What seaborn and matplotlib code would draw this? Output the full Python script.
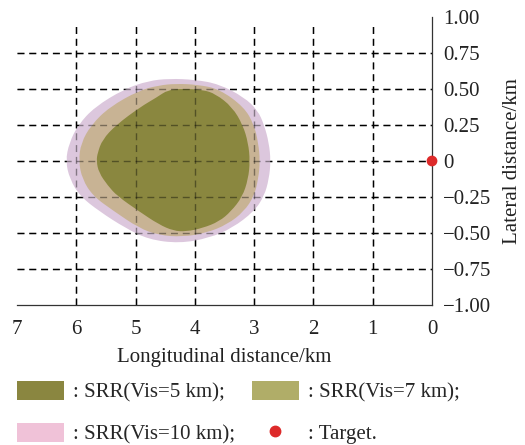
import matplotlib
matplotlib.use("Agg")
import matplotlib.pyplot as plt
import seaborn as sns
import pandas as pd
from matplotlib.patches import Patch, PathPatch
from matplotlib.path import Path
from matplotlib.lines import Line2D

# ---- data (km) ----
vis5_x = [3.87, 4.20, 4.45, 4.65, 4.92, 5.33, 5.56, 5.64, 5.66, 5.62, 5.47, 5.31, 4.94, 4.61,
          4.36, 4.15, 3.87, 3.59, 3.39, 3.20, 3.10, 3.07, 3.10, 3.19, 3.37, 3.65]
vis5_y = [0.495, 0.502, 0.495, 0.44, 0.375, 0.25, 0.148, 0.057, 0.0, -0.08, -0.17, -0.243, -0.35, -0.44,
          -0.485, -0.49, -0.466, -0.42, -0.35, -0.25, -0.125, 0.0, 0.125, 0.25, 0.375, 0.466]

vis7_x = [4.32, 4.61, 4.94, 5.44, 5.75, 5.92, 5.96, 5.90, 5.72, 5.36, 4.94, 4.61, 4.21, 3.81,
          3.45, 3.17, 3.00, 2.93, 2.90, 2.93, 3.00, 3.17, 3.59, 3.95]
vis7_y = [0.537, 0.525, 0.49, 0.375, 0.25, 0.125, 0.0, -0.125, -0.243, -0.35, -0.466, -0.515, -0.527, -0.50,
          -0.44, -0.35, -0.243, -0.125, 0.0, 0.125, 0.25, 0.375, 0.50, 0.53]

vis10_x = [4.43, 4.78, 5.19, 5.69, 5.97, 6.12, 6.18, 6.11, 5.94, 5.61, 5.17, 4.78, 4.26, 3.76,
           3.37, 3.00, 2.83, 2.75, 2.72, 2.75, 2.83, 2.94, 3.17, 3.59, 4.00]
vis10_y = [0.572, 0.557, 0.50, 0.375, 0.25, 0.125, 0.0, -0.125, -0.243, -0.35, -0.466, -0.545, -0.572, -0.535,
           -0.466, -0.35, -0.243, -0.125, 0.0, 0.125, 0.25, 0.352, 0.443, 0.534, 0.565]

target_x = [0.0]
target_y = [0.0]

xticks = [7, 6, 5, 4, 3, 2, 1, 0]
yticks = [-1.0, -0.75, -0.5, -0.25, 0.0, 0.25, 0.5, 0.75, 1.0]
ytick_labels = ["\u22121.00", "\u22120.75", "\u22120.50", "\u22120.25", "0", "0.25", "0.50", "0.75", "1.00"]

legend_labels = [": SRR(Vis=5 km);", ": SRR(Vis=7 km);", ": SRR(Vis=10 km);", ": Target."]

# ---- style ----
sns.set_theme(style="white")
plt.rcParams["font.family"] = ["Liberation Serif", "DejaVu Serif"]
plt.rcParams["axes.unicode_minus"] = True
FS = 15

fill_cols = {"v5": "#8a873f", "v7": "#c8b394", "v10": "#dcc7dd"}
leg_cols = {"v5": "#8a8640", "v7": "#b0ad68", "v10": "#f0c2d8"}
red = "#dd2a2a"


def smooth_outline(xs, ys):
    """Closed outline using the read points as quadratic Bezier control points."""
    pts = list(zip(xs, ys))
    n = len(pts)
    mids = [((pts[i][0] + pts[(i + 1) % n][0]) / 2, (pts[i][1] + pts[(i + 1) % n][1]) / 2)
            for i in range(n)]
    verts = [mids[-1]]
    codes = [Path.MOVETO]
    for i in range(n):
        verts += [pts[i], mids[i]]
        codes += [Path.CURVE3, Path.CURVE3]
    verts.append(mids[-1])
    codes.append(Path.CLOSEPOLY)
    return Path(verts, codes)


fig = plt.figure(figsize=(5.25, 4.45), dpi=100)
ax = fig.add_axes([17 / 525, 1 - 305 / 445, (432 - 17) / 525, (305 - 17) / 445])

ax.set_xlim(7, 0)
ax.set_ylim(-1, 1)

dash = (0, (5, 3.5))
# grid below shapes
for xv in xticks[1:-1]:
    ax.axvline(xv, ymax=0.983, color="black", lw=1.0, ls=dash, zorder=0.5)
for yv in yticks[1:-1]:
    ax.axhline(yv, color="black", lw=1.0, ls=dash, zorder=0.5)

for xs, ys, key, z in [(vis10_x, vis10_y, "v10", 1.0), (vis7_x, vis7_y, "v7", 1.1),
                       (vis5_x, vis5_y, "v5", 1.2)]:
    ax.add_patch(PathPatch(smooth_outline(xs, ys), facecolor=fill_cols[key], lw=0, zorder=z))

# faint grid showing through shapes
for xv in xticks[1:-1]:
    ax.axvline(xv, ymax=0.983, color="black", lw=1.0, ls=dash, alpha=0.4, zorder=2)
for yv in yticks[1:-1]:
    ax.axhline(yv, color="black", lw=1.0, ls=dash, alpha=0.4, zorder=2)

tdf = pd.DataFrame({"x": target_x, "y": target_y})
sns.scatterplot(data=tdf, x="x", y="y", ax=ax, color=red, s=60, edgecolor="none",
                zorder=5, clip_on=False, legend=False)

for s in ["top", "left"]:
    ax.spines[s].set_visible(False)
for s in ["bottom", "right"]:
    ax.spines[s].set_visible(True)
    ax.spines[s].set_color("#333333")
    ax.spines[s].set_linewidth(0.9)

ax.set_xticks(xticks)
ax.set_xticklabels([str(v) for v in xticks])
ax.set_yticks(yticks)
ax.set_yticklabels(ytick_labels)
ax.yaxis.tick_right()
ax.yaxis.set_label_position("right")
ax.tick_params(axis="x", length=0, pad=11, labelsize=FS, colors="#222222")
ax.tick_params(axis="y", length=0, pad=8, labelsize=FS, colors="#222222")
ax.set_xlabel("Longitudinal distance/km", fontsize=FS, labelpad=6, color="#222222")
ax.set_ylabel("Lateral distance/km", fontsize=FS, labelpad=8, color="#222222")
ax.grid(False)

handles = [
    Patch(facecolor=leg_cols["v5"], edgecolor="none"),
    Patch(facecolor=leg_cols["v10"], edgecolor="none"),
    Patch(facecolor=leg_cols["v7"], edgecolor="none"),
    Line2D([], [], marker="o", color=red, ls="none", markersize=7.5),
]
labels = [legend_labels[0], legend_labels[2], legend_labels[1], legend_labels[3]]
fig.legend(handles, labels, loc="upper left", bbox_to_anchor=(17 / 525, 1 - 381 / 445),
           ncol=2, frameon=False, fontsize=FS, borderpad=0, borderaxespad=0,
           handlelength=2.26, handleheight=1.05, handletextpad=0.43, columnspacing=0.8,
           labelspacing=0.95)

fig.savefig("out.png", dpi=100)
